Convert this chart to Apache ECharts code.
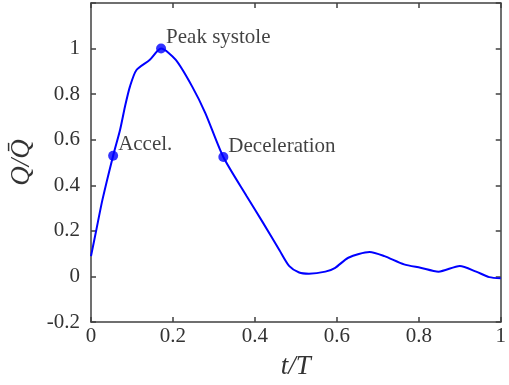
<!DOCTYPE html>
<html>
<head>
<meta charset="utf-8">
<script src="https://cdn.jsdelivr.net/npm/echarts@6/dist/echarts.min.js"></script>
<style>html,body{margin:0;padding:0;background:#fff}#c{width:509px;height:385px}</style>
</head>
<body>
<div id="c"></div>
<script>
var tValues = [0, 0.0125, 0.028, 0.054, 0.071, 0.083, 0.095, 0.111, 0.143, 0.171, 0.207, 0.247, 0.279, 0.323, 0.38, 0.42, 0.46, 0.484, 0.508, 0.532, 0.572, 0.596, 0.628, 0.68, 0.716, 0.764, 0.804, 0.848, 0.9, 0.94, 0.972, 1];
var qValues = [0.089, 0.2, 0.337, 0.53, 0.644, 0.746, 0.833, 0.906, 0.95, 1.0, 0.95, 0.833, 0.717, 0.524, 0.352, 0.235, 0.115, 0.045, 0.017, 0.012, 0.021, 0.038, 0.082, 0.107, 0.089, 0.053, 0.038, 0.021, 0.046, 0.021, -0.003, -0.008];
var markT = [0.054, 0.171, 0.323];
var markQ = [0.53, 1.0, 0.524];
var markLabels = ['Accel.', 'Peak systole', 'Deceleration'];
var xTitle = 't/T';
var yTitle = 'Q/Q\u0304';

var lineData = tValues.map(function (t, i) { return [t, qValues[i]]; });
var markData = markT.map(function (t, i) { return { value: [t, markQ[i]], name: markLabels[i] }; });

var axisColor = '#404040';
var font = 'Liberation Serif';
var tickStyle = { inside: true, length: 5, lineStyle: { color: axisColor, width: 1.5 } };
var lineStyleAx = { show: true, onZero: false, lineStyle: { color: axisColor, width: 1.5 } };

var chart = echarts.init(document.getElementById('c'));
chart.setOption({
  animation: false,
  backgroundColor: '#fff',
  grid: { left: 91, right: 1, top: 3, bottom: 62 },
  xAxis: [{
    type: 'value', min: 0, max: 1, interval: 0.2, position: 'bottom',
    axisLine: lineStyleAx, axisTick: tickStyle, splitLine: { show: false },
    axisLabel: { color: '#333', fontFamily: font, fontSize: 21, margin: 4,
      formatter: function (v) { return String(+v.toFixed(1)); } },
    name: xTitle, nameLocation: 'middle', nameGap: 31,
    nameTextStyle: { fontFamily: font, fontStyle: 'italic', fontSize: 27, color: '#333' }
  }, {
    type: 'value', min: 0, max: 1, interval: 0.2, position: 'top',
    axisLine: lineStyleAx, axisTick: tickStyle, axisLabel: { show: false }, splitLine: { show: false }
  }],
  yAxis: [{
    type: 'value', min: -0.2, max: 1.2, interval: 0.2, position: 'left',
    axisLine: lineStyleAx, axisTick: tickStyle, splitLine: { show: false },
    axisLabel: { color: '#333', fontFamily: font, fontSize: 21, margin: 11,
      formatter: function (v) { return v > 1.1 ? '' : String(+v.toFixed(1)); } },
    name: yTitle, nameLocation: 'middle', nameGap: 51,
    nameTextStyle: { fontFamily: font, fontStyle: 'italic', fontSize: 27, color: '#333' }
  }, {
    type: 'value', min: -0.2, max: 1.2, interval: 0.2, position: 'right',
    axisLine: lineStyleAx, axisTick: tickStyle, axisLabel: { show: false }, splitLine: { show: false }
  }],
  series: [{
    type: 'line', data: lineData, smooth: 0.25, showSymbol: false,
    lineStyle: { color: '#0000ff', width: 2 }, itemStyle: { color: '#0000ff' }, z: 2
  }, {
    type: 'scatter', data: markData, symbolSize: 10,
    itemStyle: { color: '#0000ff' }, z: 3,
    label: {
      show: true, position: 'right', distance: 0, offset: [0, -11],
      formatter: function (p) { return p.name; },
      fontFamily: font, fontSize: 21, color: '#111'
    }
  }]
});
</script>
</body>
</html>
